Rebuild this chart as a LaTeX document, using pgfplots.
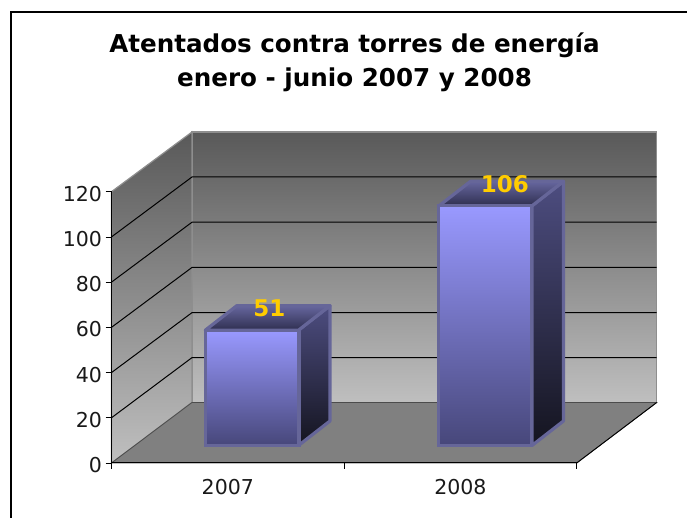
\documentclass[border=0pt]{standalone}
\usepackage{fontspec}
\setmainfont{DejaVu Sans}
\usepackage{pgfplots}
\pgfplotsset{compat=1.18}
\definecolor{wallT}{HTML}{595959}
\definecolor{wallM}{HTML}{8C8C8C}
\definecolor{wallB}{HTML}{BFBFBF}
\definecolor{floorc}{HTML}{808080}
\definecolor{edgec}{HTML}{8E8E8E}
\definecolor{barT}{HTML}{9999FF}
\definecolor{barB}{HTML}{47477A}
\definecolor{barE}{HTML}{666699}
\definecolor{sideT}{HTML}{4D4D80}
\definecolor{sideB}{HTML}{14141F}
\definecolor{topT}{HTML}{66669E}
\definecolor{topB}{HTML}{2F2F50}
\definecolor{lab}{HTML}{FFCC00}
\pgfplotsset{
  front/.style={ybar,bar shift=0pt,bar width=93.2pt,draw=barE,line width=3.2pt,
    top color=barT,bottom color=barB,xshift=24.5pt,yshift=17.5pt,
    nodes near coords,
    nodes near coords style={font=\fontsize{23}{26}\selectfont\bfseries,text=lab,
      anchor=center,xshift=#1,yshift=22pt,
      /pgf/number format/assume math mode=true}},
}
\begin{document}
\begin{tikzpicture}
\useasboundingbox (0,0) rectangle (687pt,518pt);
\draw[black,line width=2pt] (10.7pt,0) -- (10.7pt,506pt) -- (687pt,506pt);
\begin{axis}[
  at={(111.5pt,55pt)},anchor=south west,
  scale only axis,width=465.2pt,height=271.3pt,
  xmin=0,xmax=2,ymin=0,ymax=120,clip=false,
  axis on top=true,
  axis x line=bottom,axis y line=left,
  axis line style={-,black,line width=1pt},
  xtick={0.5,1.5},xticklabels={2007,2008},
  minor xtick={0,1,2},
  ytick={0,20,40,60,80,100,120},
  major tick length=6pt,minor tick length=6pt,
  tick align=outside,
  xtick style={draw=none},
  minor x tick style={draw=black,line width=0.8pt},
  y tick style={black,line width=0.8pt},
  tick label style={font=\fontsize{20.5}{24}\selectfont,text=black!90},
  xticklabel style={yshift=-7pt},
  yticklabel style={yshift=-2pt},
  /pgf/number format/assume math mode=true,
  title={Atentados contra torres de energía\\enero - junio 2007 y 2008},
  title style={at={(axis description cs:0.5224,1.455)},anchor=center,align=center,
    font=\fontsize{24.6}{34}\selectfont\bfseries},
]
% walls and floor
\addplot[draw=edgec,line width=1.2pt,top color=wallT,bottom color=wallB,middle color=wallM]
  coordinates {(0.346,26.76) (2.344,26.76) (2.344,146.4) (0.346,146.4)} -- cycle;
\addplot[draw=edgec,line width=1.2pt,top color=wallT,bottom color=wallB,middle color=wallM]
  coordinates {(0,0) (0,120) (0.346,146.4) (0.346,26.76)} -- cycle;
\addplot[draw=black!70,line width=0.8pt,fill=floorc]
  coordinates {(0,0) (2,0) (2.344,26.76) (0.346,26.76)} -- cycle;
\addplot[black,line width=0.9pt] coordinates {(2,0) (2.344,26.76)};
% grid
\addplot[black,line width=1pt] coordinates {(0,20) (0.346,46.6) (2.344,46.6)};
\addplot[black,line width=1pt] coordinates {(0,40) (0.346,66.5) (2.344,66.5)};
\addplot[black,line width=1pt] coordinates {(0,60) (0.346,86.5) (2.344,86.5)};
\addplot[black,line width=1pt] coordinates {(0,80) (0.346,106.5) (2.344,106.5)};
\addplot[black,line width=1pt] coordinates {(0,100) (0.346,126.5) (2.344,126.5)};
% bar 2007 sides
\addplot[draw=barE,line width=3.2pt,line join=round,top color=sideT,bottom color=sideB]
  coordinates {(0.8039,7.74) (0.9394,18.58) (0.9394,69.58) (0.8039,58.74)} -- cycle;
\addplot[draw=barE,line width=3.2pt,line join=round,top color=topT,bottom color=topB]
  coordinates {(0.4032,58.74) (0.5387,69.58) (0.9394,69.58) (0.8039,58.74)} -- cycle;
% bar 2008 sides
\addplot[draw=barE,line width=3.2pt,line join=round,top color=sideT,bottom color=sideB]
  coordinates {(1.8078,7.74) (1.9432,18.58) (1.9432,124.58) (1.8078,113.74)} -- cycle;
\addplot[draw=barE,line width=3.2pt,line join=round,top color=topT,bottom color=topB]
  coordinates {(1.408,113.74) (1.5434,124.58) (1.9432,124.58) (1.8078,113.74)} -- cycle;
% bar fronts with the values
\addplot[front=17pt] coordinates {(0.5,51)};
\addplot[front=20pt] coordinates {(1.5,106)};
\end{axis}
\end{tikzpicture}
\end{document}
